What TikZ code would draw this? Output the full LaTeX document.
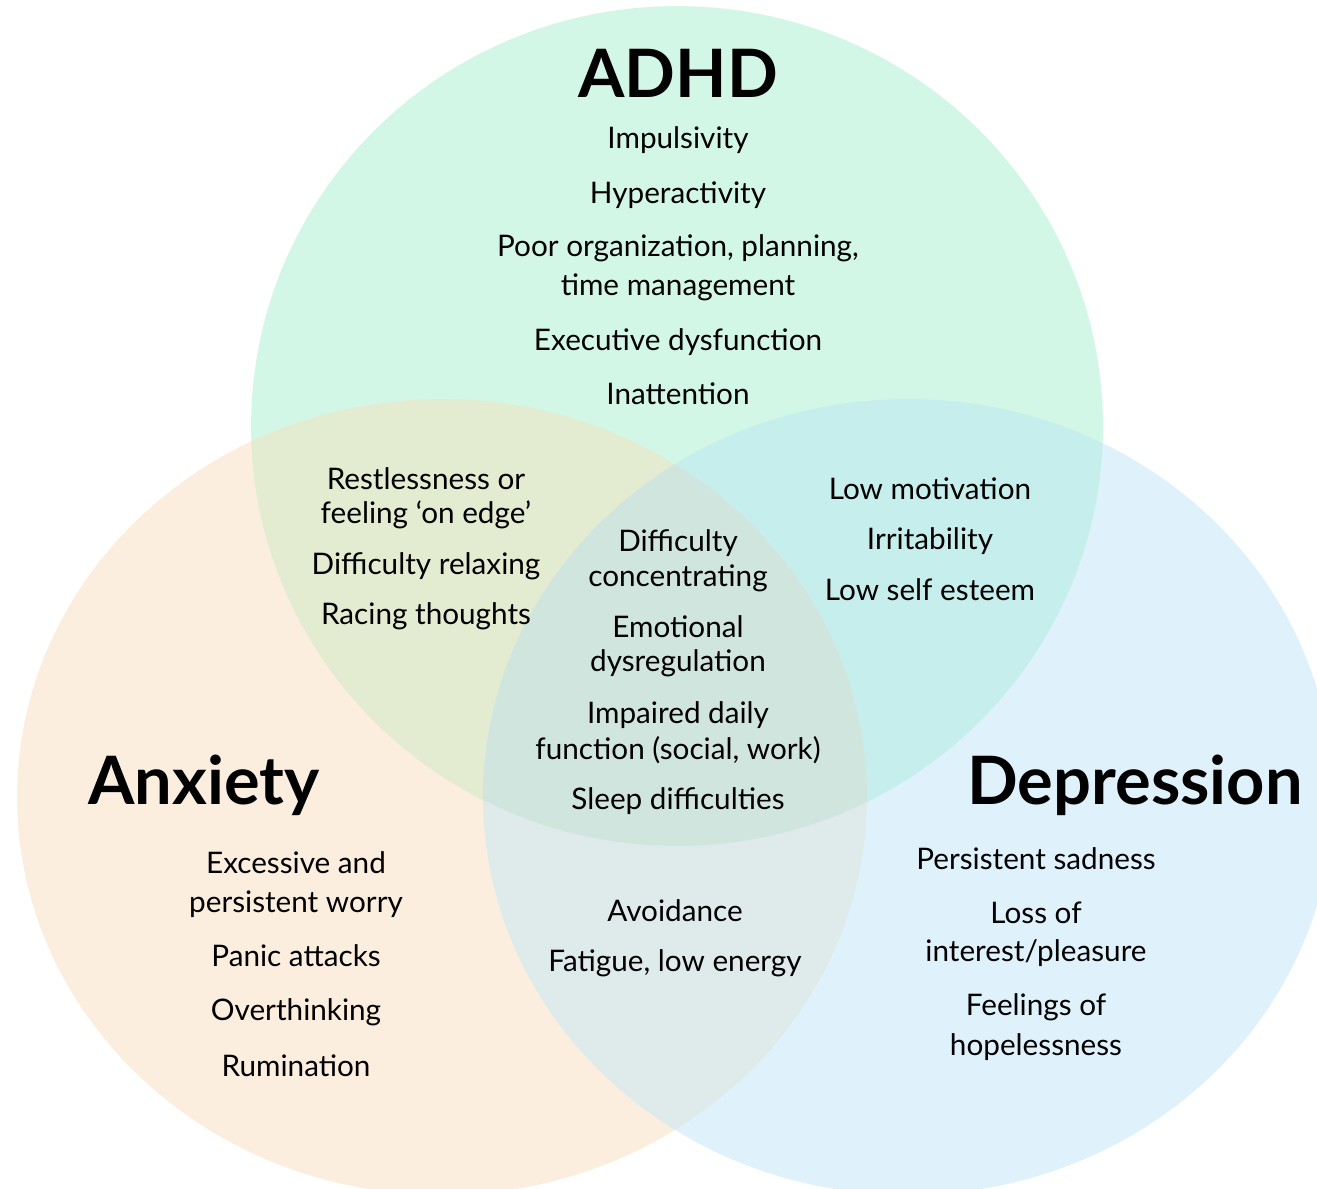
\documentclass[tikz,border=0pt]{standalone}
\usepackage{fontspec}
\setmainfont{Lato}
\usetikzlibrary{positioning}

\definecolor{adhdfill}{HTML}{D3F7E6}
\definecolor{anxfill}{HTML}{FCEEDF}
\definecolor{depfill}{HTML}{DFF2FB}
\definecolor{adhdanxfill}{HTML}{E3EBD0}
\definecolor{adhddepfill}{HTML}{C5EEEC}
\definecolor{anxdepfill}{HTML}{DFEBEB}
\definecolor{allfill}{HTML}{D1E5DF}

\newcommand{\adhdshape}{(677,426) ellipse [x radius=8.52cm, y radius=8.40cm]}
\newcommand{\anxshape}{(442,797) ellipse [x radius=8.50cm, y radius=7.96cm]}
\newcommand{\depshape}{(908,797) ellipse [x radius=8.50cm, y radius=7.96cm]}

\begin{document}
\begin{tikzpicture}[
    x=0.02cm, y=-0.02cm,
    title/.style={
            anchor=base,
            inner sep=0pt,
            font=\fontsize{38}{46}\selectfont\bfseries
        },
    item/.style={
            anchor=base,
            inner sep=0pt,
            font=\fontsize{16.9}{20}\selectfont
        },
    ]

    \clip (0,0) rectangle (1317,1188);

    % --- Circles ---
    \fill[anxfill] \anxshape;
    \fill[depfill] \depshape;
    \fill[adhdfill] \adhdshape;

    % --- Overlaps ---
    \begin{scope}
        \clip \adhdshape;
        \fill[adhdanxfill] \anxshape;
        \fill[adhddepfill] \depshape;
    \end{scope}
    \begin{scope}
        \clip \anxshape;
        \fill[anxdepfill] \depshape;
        \clip \depshape;
        \fill[allfill] \adhdshape;
    \end{scope}

    % --- Titles ---
    \node (adhd_title) [title] at (678,97) {ADHD};
    \node (anx_title) [title] at (204,804) {Anxiety};
    \node (dep_title) [title] at (1135,804) {Depression};

    % --- ADHD only ---
    \node (impulsivity) [item] at (678,148.5) {Impulsivity};
    \node (hyperactivity) [item] at (678,203) {Hyperactivity};
    \node (organization) [item] at (678,256.5) {Poor organization, planning,};
    \node (organization2) [item] at (678,295) {time management};
    \node (executive) [item] at (678,350.5) {Executive dysfunction};
    \node (inattention) [item] at (678,404) {Inattention};

    % --- ADHD and Anxiety ---
    \node (restless) [item] at (426,489) {Restlessness or};
    \node (restless2) [item] at (426,523) {feeling ‘on edge’};
    \node (relaxing) [item] at (426,574.5) {Difficulty relaxing};
    \node (racing) [item] at (426,624.5) {Racing thoughts};

    % --- ADHD and Depression ---
    \node (motivation) [item] at (930,499) {Low motivation};
    \node (irritability) [item] at (930,549) {Irritability};
    \node (esteem) [item] at (930,600.5) {Low self esteem};

    % --- All three ---
    \node (concentrating) [item] at (678,551.5) {Difficulty};
    \node (concentrating2) [item] at (678,586) {concentrating};
    \node (emotional) [item] at (678,637.5) {Emotional};
    \node (emotional2) [item] at (678,671.5) {dysregulation};
    \node (impaired) [item] at (678,723.5) {Impaired daily};
    \node (impaired2) [item] at (678,759.5) {function (social, work)};
    \node (sleep) [item] at (678,809.5) {Sleep difficulties};

    % --- Anxiety and Depression ---
    \node (avoidance) [item] at (675,921.5) {Avoidance};
    \node (fatigue) [item] at (675,971.5) {Fatigue, low energy};

    % --- Anxiety only ---
    \node (worry) [item] at (296,873.5) {Excessive and};
    \node (worry2) [item] at (296,912.5) {persistent worry};
    \node (panic) [item] at (296,966.5) {Panic attacks};
    \node (overthinking) [item] at (296,1020.5) {Overthinking};
    \node (rumination) [item] at (296,1076) {Rumination};

    % --- Depression only ---
    \node (sadness) [item] at (1036,869.5) {Persistent sadness};
    \node (interest) [item] at (1036,923) {Loss of};
    \node (interest2) [item] at (1036,961) {interest/pleasure};
    \node (hopeless) [item] at (1036,1015.5) {Feelings of};
    \node (hopeless2) [item] at (1036,1055) {hopelessness};

\end{tikzpicture}
\end{document}
